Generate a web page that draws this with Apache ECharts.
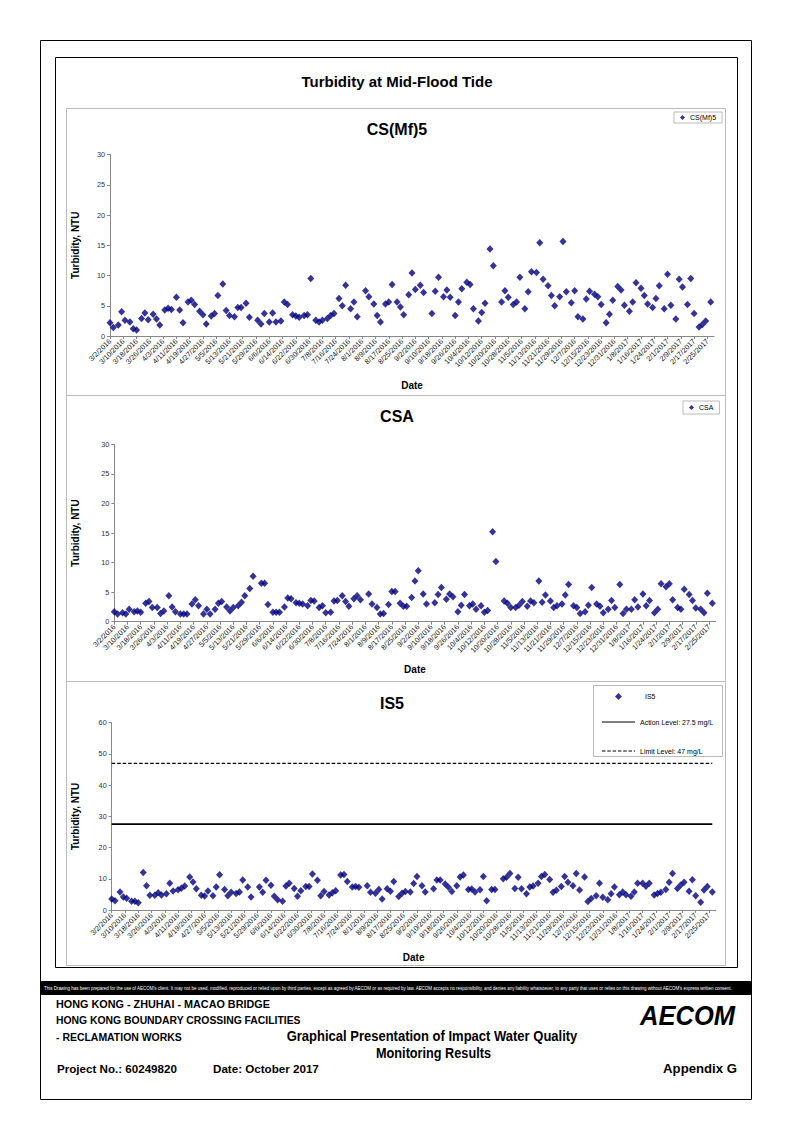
<!DOCTYPE html>
<html><head><meta charset="utf-8">
<script src="https://cdn.jsdelivr.net/npm/echarts@6/dist/echarts.min.js"></script>
<style>html,body{margin:0;padding:0;background:#fff}#c{width:794px;height:1122px}</style>
</head><body><div id="c"></div>
<script>
// x-axis tick labels (every 8 days from 3/2/2016)
const tickLabels = ['3/2/2016','3/10/2016','3/18/2016','3/26/2016','4/3/2016','4/11/2016','4/19/2016','4/27/2016','5/5/2016','5/13/2016','5/21/2016','5/29/2016','6/6/2016','6/14/2016','6/22/2016','6/30/2016','7/8/2016','7/16/2016','7/24/2016','8/1/2016','8/9/2016','8/17/2016','8/25/2016','9/2/2016','9/10/2016','9/18/2016','9/26/2016','10/4/2016','10/12/2016','10/20/2016','10/28/2016','11/5/2016','11/13/2016','11/21/2016','11/29/2016','12/7/2016','12/15/2016','12/23/2016','12/31/2016','1/8/2017','1/16/2017','1/24/2017','2/1/2017','2/9/2017','2/17/2017','2/25/2017'];

// monitoring days, as days since 3/2/2016
const sampleDay = [0,2,5,7,9,12,14,16,19,21,23,26,28,30,33,35,37,40,42,44,47,49,51,54,56,58,61,63,65,68,70,72,75,77,79,82,84,89,91,93,96,98,100,103,105,107,110,112,114,117,119,121,124,126,128,131,133,135,138,140,142,145,147,149,154,156,159,161,163,166,168,170,173,175,177,180,182,184,187,189,194,196,198,201,203,205,208,210,212,215,217,219,222,224,226,229,231,236,238,240,243,245,247,250,252,254,257,259,261,264,266,268,271,273,275,278,280,282,285,287,289,292,294,296,299,301,303,306,308,310,313,315,317,320,322,324,327,329,331,334,336,338,341,343,345,348,350,352,355,357,359,362];

// turbidity (NTU)
const csmf5 = [2.2,1.4,1.8,4.0,2.6,2.3,1.2,1.0,2.9,3.8,2.7,3.6,2.8,1.8,4.3,4.6,4.4,6.4,4.3,2.2,5.6,5.9,5.2,4.1,3.5,2.0,3.3,3.7,6.7,8.6,4.2,3.4,3.2,4.7,4.7,5.4,3.1,2.6,2.0,3.7,2.3,3.8,2.3,2.5,5.6,5.2,3.5,3.3,3.1,3.4,3.5,9.5,2.6,2.3,2.6,2.9,3.4,3.7,6.2,5.0,8.4,4.5,5.6,3.2,7.5,6.5,5.3,3.4,2.3,5.3,5.6,8.5,5.6,4.8,3.5,6.8,10.4,7.7,8.4,7.2,3.7,7.4,9.7,6.5,7.6,6.4,3.4,5.6,7.8,8.9,8.5,4.5,2.5,3.9,5.4,14.4,11.6,5.6,7.5,6.4,5.2,5.6,9.7,4.5,7.3,10.6,10.5,15.4,9.4,8.3,6.7,5.0,6.5,15.6,7.3,5.5,7.5,3.2,2.8,6.1,7.4,6.9,6.5,5.2,2.2,3.6,5.9,8.2,7.6,5.1,4.1,5.6,8.8,7.9,6.7,5.3,4.7,6.2,8.3,4.5,10.2,5.1,2.8,9.4,8.1,5.2,9.5,3.7,1.5,1.9,2.5,5.6];
const csa = [1.7,1.3,1.5,1.3,2.1,1.7,1.8,1.6,3.1,3.4,2.4,2.4,1.4,1.8,4.4,2.5,1.7,1.3,1.3,1.3,3.0,3.7,2.7,1.3,2.1,1.3,2.1,3.1,3.4,2.5,1.8,2.4,2.7,3.3,4.4,5.6,7.7,6.5,6.5,2.9,1.6,1.6,1.6,2.5,4.0,3.9,3.2,3.1,3.0,2.7,3.6,3.5,2.4,2.7,1.5,1.6,3.5,3.6,4.4,3.4,2.6,3.9,4.4,3.7,4.7,3.0,2.4,1.3,1.4,2.9,5.1,5.1,3.1,2.6,2.6,4.1,6.9,8.6,4.7,3.0,3.2,4.6,5.8,3.8,4.7,4.2,1.7,2.8,4.6,2.7,3.0,2.1,2.7,1.6,1.9,15.2,10.2,3.5,3.1,2.4,2.4,2.8,3.4,2.6,3.5,3.2,6.9,3.3,4.5,3.5,2.4,2.7,3.0,4.5,6.3,2.7,2.4,1.4,1.7,2.8,5.8,3.0,2.6,1.5,2.1,3.6,2.4,6.3,1.4,2.1,2.1,3.7,2.5,4.7,2.7,3.6,1.5,2.1,6.4,5.9,6.4,3.7,2.4,2.1,5.5,4.6,3.6,2.3,2.1,1.5,4.8,3.1];
const is5 = [3.5,3.0,5.8,4.2,3.8,2.8,2.8,2.3,12.0,7.8,4.7,4.7,5.5,4.8,5.2,8.6,6.1,6.5,7.0,7.7,10.6,9.0,6.8,4.7,4.5,6.1,4.6,7.4,11.3,6.6,4.6,5.7,5.3,5.8,9.6,7.4,4.2,7.4,5.7,9.5,7.9,4.4,3.3,2.8,7.7,8.6,6.9,4.4,6.2,7.5,7.5,11.5,9.5,4.6,5.9,4.8,5.5,6.2,11.2,11.4,9.1,7.4,7.5,7.3,7.8,5.7,5.4,6.6,3.5,6.8,6.0,9.1,4.3,5.4,5.9,5.8,8.5,10.7,7.8,5.8,6.8,9.6,9.6,8.3,7.3,5.9,7.8,10.6,11.2,6.6,6.7,5.8,6.5,10.7,3.0,6.6,6.6,10.0,10.5,11.7,6.9,10.5,6.8,5.2,7.4,7.7,8.6,10.7,11.4,9.8,5.7,6.3,7.5,10.7,8.9,7.8,11.7,6.4,10.6,2.7,3.7,4.6,8.6,4.1,3.3,5.2,7.4,4.9,5.8,4.9,4.4,5.8,8.6,8.6,7.6,8.6,4.8,5.3,5.7,6.6,8.9,11.7,6.9,8.0,8.9,6.0,9.7,4.6,2.5,6.4,7.5,5.8];
const actionLevel = 27.5;
const limitLevel = 47;

const FONT = "'Liberation Sans', Arial, sans-serif";
const NAVY = '#000080';

function pts(vals){ return sampleDay.map((d,i)=>[d, vals[i]]); }
const lastDay = sampleDay[sampleDay.length-1];

// text-fitting helper (horizontal condensing to mimic narrow fonts)
const measCtx = document.createElement('canvas').getContext('2d');
function fitText(text, x, y, target, font, align, fill){
  measCtx.font = font;
  const s = target / measCtx.measureText(text).width;
  return {type:'text', silent:true, x:x, y:y, scaleX:s,
    style:{text:text, x:0, y:0, align:align, verticalAlign:'middle', font:font, fill:fill||'#000'}};
}

const grids = [
  {left:110, top:154.5, width:604, height:181.5},
  {left:114.3, top:444.3, width:601.3, height:177.4},
  {left:111.7, top:722.7, width:603.9, height:187.3}
];

function xAx(i, nameGap){
  return {gridIndex:i, type:'value', min:0, max:364, interval:8,
    axisLine:{lineStyle:{color:'#888', width:1}},
    axisTick:{length:3, lineStyle:{color:'#888'}},
    splitLine:{show:false},
    axisLabel:{rotate:45, fontSize:7.3, color:'#111', margin:4, showMaxLabel:false, fontFamily:FONT,
      formatter:v=> (v%8===0 && tickLabels[v/8]) ? tickLabels[v/8] : ''},
    name:'Date', nameLocation:'middle', nameGap:nameGap, nameMoveOverlap:false,
    nameTextStyle:{fontSize:10, fontWeight:'bold', color:'#000', fontFamily:FONT}};
}
function yAx(i, max, interval, nameGap){
  return {gridIndex:i, type:'value', min:0, max:max, interval:interval,
    axisLine:{show:true, lineStyle:{color:'#888', width:1}},
    axisTick:{show:true, length:3, lineStyle:{color:'#888'}},
    splitLine:{show:false},
    axisLabel:{fontSize:7.3, color:'#333', margin:5, fontFamily:FONT},
    name:'Turbidity, NTU', nameLocation:'middle', nameGap:nameGap, nameMoveOverlap:false,
    nameTextStyle:{fontSize:10, fontWeight:'bold', color:'#000', fontFamily:FONT}};
}
function scat(name, i, vals){
  return {type:'scatter', name:name, xAxisIndex:i, yAxisIndex:i, data:pts(vals),
    symbol:'diamond', symbolSize:[7,7.5], itemStyle:{color:NAVY}, silent:true};
}

const legendBox = {borderColor:'#aaa', borderWidth:0.8, backgroundColor:'#fff'};
const legText = {fontSize:7, fontFamily:FONT, color:'#000'};
const dashIcon = 'path://M0,0H3.5V1H0Z M5.3,0H8.8V1H5.3Z M10.6,0H14.1V1H10.6Z M15.9,0H19.4V1H15.9Z M21.2,0H24.7V1H21.2Z M26.5,0H30V1H26.5Z M31.8,0H33V1H31.8Z';

const option = {
  animation:false,
  grid: grids,
  xAxis: [xAx(0,44), xAx(1,43), xAx(2,42)],
  yAxis: [yAx(0,30,5,30), yAx(1,30,5,34), yAx(2,60,10,31)],
  legend: [
    Object.assign({left:674, top:112, data:[{name:'CS(Mf)5', icon:'diamond'}], itemWidth:5, itemHeight:5,
      padding:[2,6], textStyle:legText}, legendBox),
    Object.assign({left:683, top:401, data:[{name:'CSA', icon:'diamond'}], itemWidth:5, itemHeight:5,
      padding:[3,6], textStyle:legText}, legendBox),
    {left:615, top:693, data:[{name:'IS5', icon:'diamond'}], itemWidth:7, itemHeight:7, padding:0,
      textStyle:Object.assign({padding:[0,0,0,18]}, legText)},
    {left:602, top:718.5, orient:'vertical', itemWidth:33, itemHeight:1.6, itemGap:22, padding:0,
      data:[{name:'Action Level: 27.5 mg/L', icon:'path://M0,0H33V1H0Z'}, {name:'Limit Level: 47 mg/L', icon:dashIcon}],
      textStyle:legText}
  ],
  series: [
    scat('CS(Mf)5', 0, csmf5),
    scat('CSA', 1, csa),
    scat('IS5', 2, is5),
    {type:'line', name:'Action Level: 27.5 mg/L', xAxisIndex:2, yAxisIndex:2, symbol:'none', silent:true,
      data:[[0,actionLevel],[lastDay,actionLevel]], lineStyle:{color:'#000', width:1.6}, itemStyle:{color:'#000'}},
    {type:'line', name:'Limit Level: 47 mg/L', xAxisIndex:2, yAxisIndex:2, symbol:'none', silent:true,
      data:[[0,limitLevel],[lastDay,limitLevel]], lineStyle:{color:'#000', width:1.2, type:[3.5,2]}, itemStyle:{color:'#000'}}
  ],
  graphic: [
    {type:'rect', silent:true, z:-10, shape:{x:40.5, y:40.5, width:711, height:1059}, style:{fill:'none', stroke:'#000', lineWidth:1}},
    {type:'rect', silent:true, z:-10, shape:{x:55.5, y:57.5, width:682, height:910}, style:{fill:'none', stroke:'#000', lineWidth:1}},
    {type:'rect', silent:true, z:-10, shape:{x:66.5, y:108.5, width:659, height:287}, style:{fill:'none', stroke:'#bbb', lineWidth:1}},
    {type:'rect', silent:true, z:-10, shape:{x:66.5, y:395.5, width:659, height:286}, style:{fill:'none', stroke:'#bbb', lineWidth:1}},
    {type:'rect', silent:true, z:-10, shape:{x:66.5, y:681.5, width:659, height:284}, style:{fill:'none', stroke:'#bbb', lineWidth:1}},
    {type:'rect', silent:true, z:-5, shape:{x:593.5, y:685.5, width:129, height:71}, style:{fill:'#fff', stroke:'#aaa', lineWidth:0.8}},
    {type:'text', silent:true, style:{text:'Turbidity at Mid-Flood Tide', x:397, y:81, align:'center', verticalAlign:'middle', font:'bold 15px '+FONT, fill:'#000'}},
    {type:'text', silent:true, style:{text:'CS(Mf)5', x:397, y:129, align:'center', verticalAlign:'middle', font:'bold 16px '+FONT, fill:'#000'}},
    {type:'text', silent:true, style:{text:'CSA', x:397, y:416, align:'center', verticalAlign:'middle', font:'bold 16px '+FONT, fill:'#000'}},
    {type:'text', silent:true, style:{text:'IS5', x:392, y:703, align:'center', verticalAlign:'middle', font:'bold 16px '+FONT, fill:'#000'}},
    {type:'rect', silent:true, shape:{x:40, y:981, width:712, height:14}, style:{fill:'#000'}},
    fitText("This Drawing has been prepared for the use of AECOM's client. It may not be used, modified, reproduced or relied upon by third parties, except as agreed by AECOM or as required by law. AECOM accepts no responsibility, and denies any liability whatsoever, to any party that uses or relies on this drawing without AECOM's express written consent.", 44, 988, 690, '5px '+FONT, 'left', '#fff'),
    fitText('HONG KONG - ZHUHAI - MACAO BRIDGE', 56, 1004, 214, 'bold 11px '+FONT, 'left'),
    fitText('HONG KONG BOUNDARY CROSSING FACILITIES', 56, 1020, 245, 'bold 11px '+FONT, 'left'),
    fitText('- RECLAMATION WORKS', 56, 1037, 126, 'bold 11px '+FONT, 'left'),
    fitText('Graphical Presentation of Impact Water Quality', 432, 1036, 291, 'bold 14px '+FONT, 'center'),
    fitText('Monitoring Results', 433.5, 1053, 115, 'bold 14px '+FONT, 'center'),
    fitText('Project No.: 60249820', 57, 1069, 120, 'bold 11.5px '+FONT, 'left'),
    fitText('Date: October 2017', 213, 1069, 106, 'bold 11.5px '+FONT, 'left'),
    fitText('Appendix G', 737, 1069, 74, 'bold 12.5px '+FONT, 'right'),
    fitText('AECOM', 735, 1016, 95, 'italic bold 28px '+FONT, 'right')
  ]
};

const chart = echarts.init(document.getElementById('c'), null, {renderer:'svg', width:794, height:1122});
chart.setOption(option);
</script>
</body></html>
